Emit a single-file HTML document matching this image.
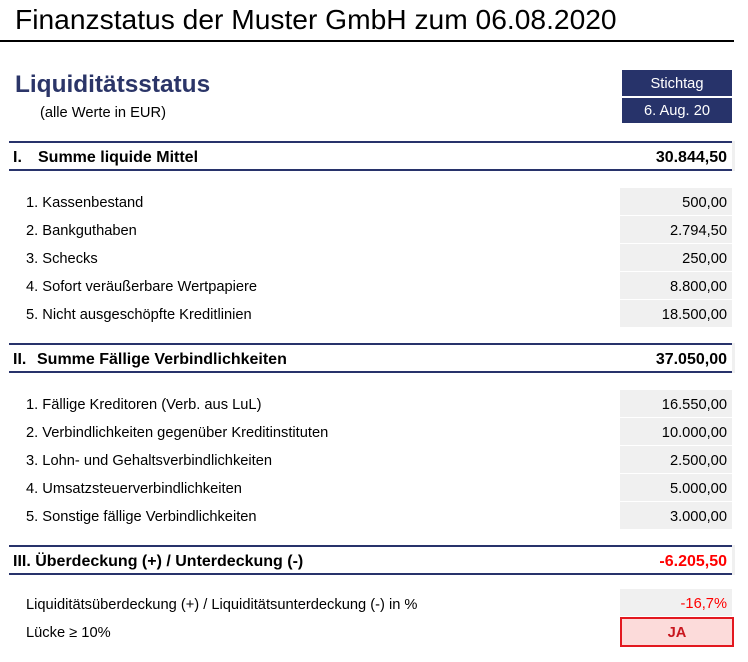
<!DOCTYPE html>
<html>
<head>
<meta charset="utf-8">
<style>
  html, body { margin:0; padding:0; background:#fff; }
  body { width:748px; height:662px; position:relative; overflow:hidden;
         font-family:"Liberation Sans", Arial, sans-serif; color:#000; }
  .abs { position:absolute; white-space:nowrap; }
  .title { left:15px; top:3px; font-size:28.2px; line-height:32px; }
  .rule { left:0; top:40px; width:734px; height:2px; background:#000; }
  .h1 { left:15px; top:71px; font-size:24.4px; line-height:28px; font-weight:bold; color:#2B3568; }
  .sub { left:40px; top:103px; font-size:14.67px; line-height:20px; }
  .box { left:622px; width:110px; background:#27336A; color:#fff; text-align:center;
         font-size:14.67px; overflow:hidden; }
  .sec { left:9px; width:723px; height:30px; box-sizing:border-box;
         border-top:2px solid #28336B; border-bottom:2px solid #28336B;
         font-size:16px; font-weight:bold; line-height:26px; }
  .sec .n { position:absolute; left:4px; top:2px; }
  .sec .t { position:absolute; left:29px; top:2px; }
  .sec .v { position:absolute; right:5px; top:2px; }
  .sliver { left:732px; width:3px; height:30px; background:#F0F0F0; }
  .lbl { left:26px; font-size:14.67px; line-height:30px; height:28px; }
  .val { left:620px; width:112px; height:28px; box-sizing:border-box; background:#F0F0F0;
         border-bottom:1px solid #fff; text-align:right; padding-right:5px;
         font-size:14.67px; line-height:30px; overflow:hidden; }
  .red { color:#FF0000; }
  .ja { left:620px; top:617px; width:114px; height:30px; box-sizing:border-box;
        border:2px solid #E3181F; background:#FCDBDA; color:#C8161E; font-weight:bold;
        text-align:center; font-size:14.67px; line-height:29px; overflow:hidden; }
</style>
</head>
<body>
  <div class="abs title">Finanzstatus der Muster GmbH zum 06.08.2020</div>
  <div class="abs rule"></div>

  <div class="abs h1">Liquiditätsstatus</div>
  <div class="abs sub">(alle Werte in EUR)</div>
  <div class="abs box" style="top:70px;height:26px;line-height:28px;">Stichtag</div>
  <div class="abs box" style="top:98px;height:25px;line-height:27px;">6. Aug. 20</div>

  <!-- Section I -->
  <div class="abs sec" style="top:141px;"><span class="n">I.</span><span class="t">Summe liquide Mittel</span><span class="v">30.844,50</span></div>
  <div class="abs sliver" style="top:141px;"></div>

  <div class="abs lbl" style="top:188px;">1. Kassenbestand</div>
  <div class="abs val" style="top:188px;">500,00</div>
  <div class="abs lbl" style="top:216px;">2. Bankguthaben</div>
  <div class="abs val" style="top:216px;">2.794,50</div>
  <div class="abs lbl" style="top:244px;">3. Schecks</div>
  <div class="abs val" style="top:244px;">250,00</div>
  <div class="abs lbl" style="top:272px;">4. Sofort veräußerbare Wertpapiere</div>
  <div class="abs val" style="top:272px;">8.800,00</div>
  <div class="abs lbl" style="top:300px;">5. Nicht ausgeschöpfte Kreditlinien</div>
  <div class="abs val" style="top:300px;">18.500,00</div>

  <!-- Section II -->
  <div class="abs sec" style="top:343px;"><span class="n">II.</span><span class="t" style="left:28px;">Summe Fällige Verbindlichkeiten</span><span class="v">37.050,00</span></div>
  <div class="abs sliver" style="top:343px;"></div>

  <div class="abs lbl" style="top:390px;">1. Fällige Kreditoren (Verb. aus LuL)</div>
  <div class="abs val" style="top:390px;">16.550,00</div>
  <div class="abs lbl" style="top:418px;">2. Verbindlichkeiten gegenüber Kreditinstituten</div>
  <div class="abs val" style="top:418px;">10.000,00</div>
  <div class="abs lbl" style="top:446px;">3. Lohn- und Gehaltsverbindlichkeiten</div>
  <div class="abs val" style="top:446px;">2.500,00</div>
  <div class="abs lbl" style="top:474px;">4. Umsatzsteuerverbindlichkeiten</div>
  <div class="abs val" style="top:474px;">5.000,00</div>
  <div class="abs lbl" style="top:502px;">5. Sonstige fällige Verbindlichkeiten</div>
  <div class="abs val" style="top:502px;">3.000,00</div>

  <!-- Section III -->
  <div class="abs sec" style="top:545px;"><span class="n">III. Überdeckung (+) / Unterdeckung (-)</span><span class="v red">-6.205,50</span></div>
  <div class="abs sliver" style="top:545px;"></div>

  <div class="abs lbl" style="top:590px;">Liquiditätsüberdeckung (+) / Liquiditätsunterdeckung (-) in %</div>
  <div class="abs val red" style="top:589px;line-height:31px;">-16,7%</div>
  <div class="abs lbl" style="top:618px;">Lücke ≥ 10%</div>
  <div class="abs ja">JA</div>
</body>
</html>
